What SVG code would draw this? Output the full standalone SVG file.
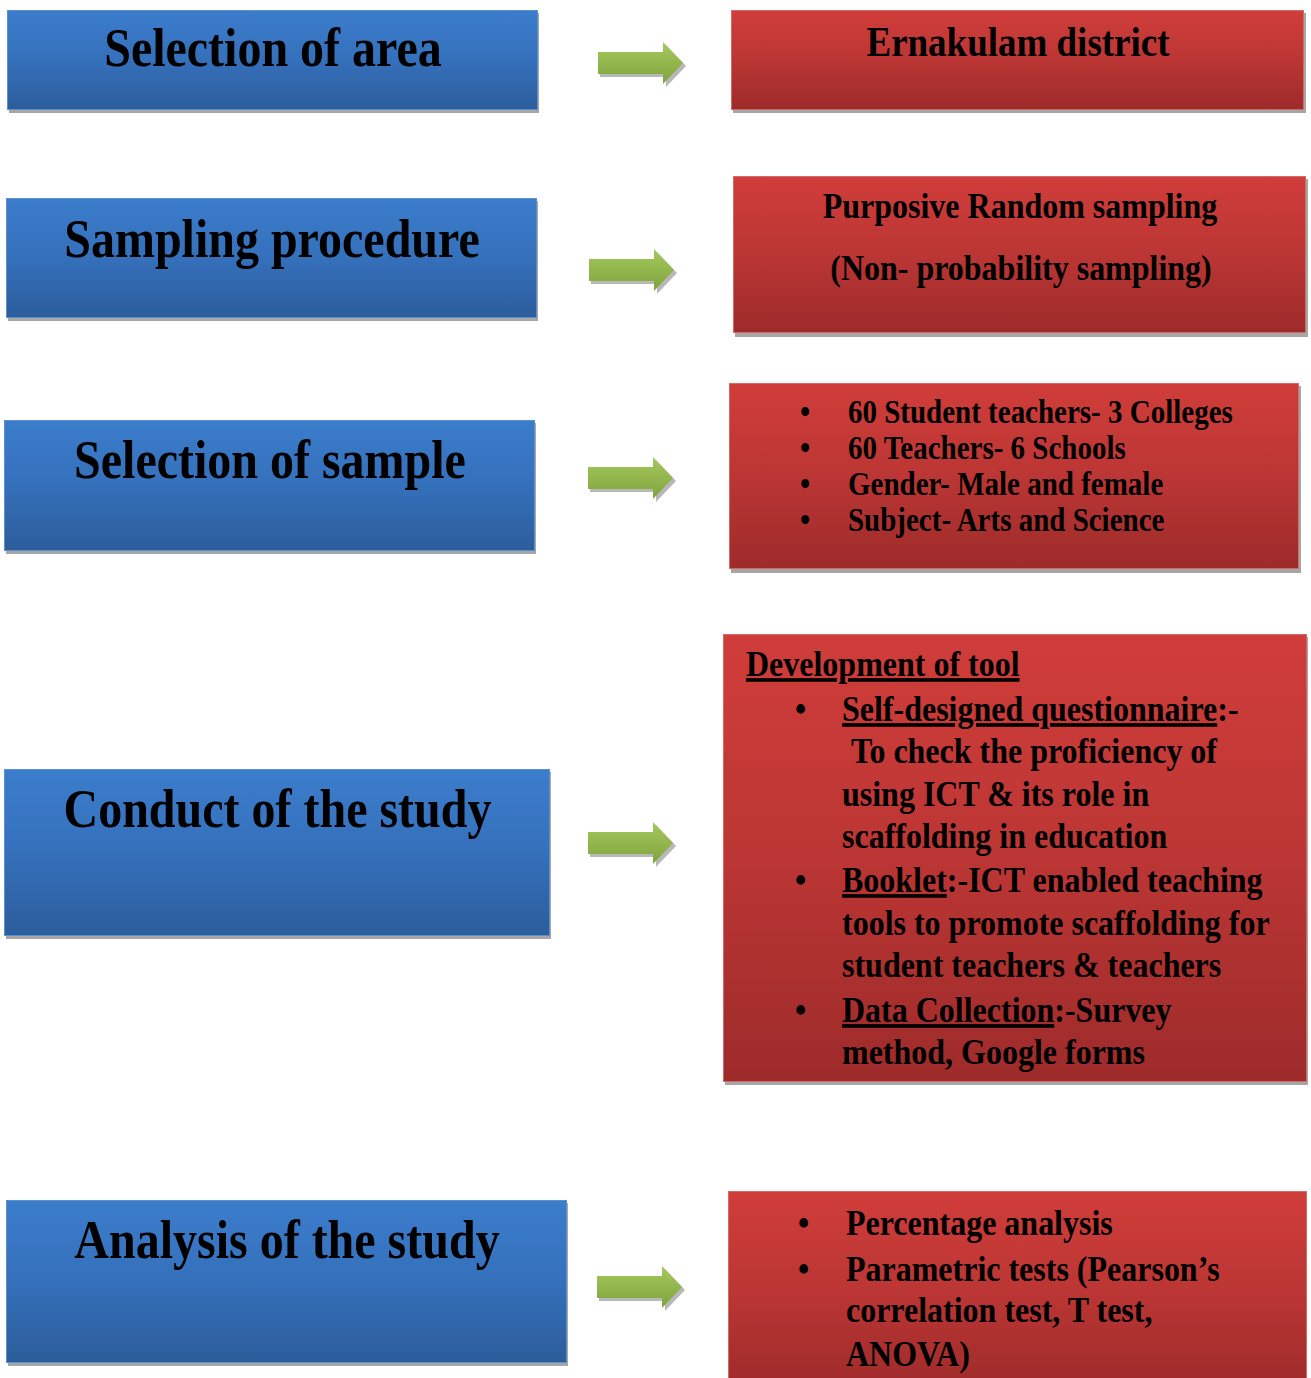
<svg xmlns="http://www.w3.org/2000/svg" width="1311" height="1378" viewBox="0 0 1311 1378">
<style>
.t{font-family:"Liberation Serif","Times New Roman",serif;font-weight:bold;fill:#000}
.h{font-size:48px;text-anchor:middle}
.r{font-size:32px}
.sh{fill:#a6a6a6}
.blue{fill:url(#gb);stroke:#5b8fd0;stroke-width:1}
.red{fill:url(#gr);stroke:#d36a68;stroke-width:1}
.u{text-decoration:underline}
</style>
<defs>
<linearGradient id="gb" x1="0" y1="0" x2="0" y2="1">
<stop offset="0" stop-color="#3b7dcc"/>
<stop offset="0.5" stop-color="#3570bb"/>
<stop offset="1" stop-color="#2c5d9b"/>
</linearGradient>
<linearGradient id="gr" x1="0" y1="0" x2="0" y2="1">
<stop offset="0" stop-color="#d03d3a"/>
<stop offset="0.5" stop-color="#bb3634"/>
<stop offset="1" stop-color="#9d2b2a"/>
</linearGradient>
<linearGradient id="gg" x1="0" y1="0" x2="0" y2="1">
<stop offset="0" stop-color="#a6c95e"/>
<stop offset="1" stop-color="#7fa43c"/>
</linearGradient>
<g id="arrow">
<path d="M2,-8 H68 V-18 L88,3 L68,24 V14 H2 Z" fill="#a0a0a0" opacity="0.75"/>
<path d="M0,-11 H65 V-21 L85,0 L65,21 V11 H0 Z" fill="url(#gg)"/>
</g>
</defs>

<g id="connectors">
<use href="#arrow" x="598" y="63"/>
<use href="#arrow" x="589" y="270"/>
<use href="#arrow" x="588" y="478"/>
<use href="#arrow" x="588" y="843"/>
<use href="#arrow" x="597" y="1287"/>
</g>

<g id="n-area">
<rect class="sh" x="9" y="13" width="530" height="100"/>
<rect class="blue" x="7.5" y="10.5" width="530" height="99"/>
<text class="t h" x="273" y="66" transform="matrix(1 0 0 1.14 0 -9.24)">Selection of area</text>
</g>
<g id="n-sampling">
<rect class="sh" x="8" y="201" width="530" height="120"/>
<rect class="blue" x="6.5" y="198.5" width="530" height="119"/>
<text class="t h" x="272" y="257" transform="matrix(1 0 0 1.14 0 -35.98)">Sampling procedure</text>
</g>
<g id="n-sample">
<rect class="sh" x="6" y="423" width="530" height="131"/>
<rect class="blue" x="4.5" y="420.5" width="530" height="130"/>
<text class="t h" x="270" y="478" transform="matrix(1 0 0 1.14 0 -66.92)">Selection of sample</text>
</g>
<g id="n-conduct">
<rect class="sh" x="6" y="772" width="545" height="167"/>
<rect class="blue" x="4.5" y="769.5" width="545" height="166"/>
<text class="t h" x="277.5" y="827" transform="matrix(1 0 0 1.14 0 -115.78)">Conduct of the study</text>
</g>
<g id="n-analysis">
<rect class="sh" x="8" y="1203" width="560" height="163"/>
<rect class="blue" x="6.5" y="1200.5" width="560" height="162"/>
<text class="t h" x="287" y="1258" transform="matrix(1 0 0 1.14 0 -176.12)">Analysis of the study</text>
</g>

<g id="n-ernakulam">
<rect class="sh" x="733" y="13" width="573" height="100"/>
<rect class="red" x="731.5" y="10.5" width="572" height="99"/>
<text class="t" x="1018" y="56" font-size="37" text-anchor="middle" transform="matrix(1 0 0 1.14 0 -7.84)">Ernakulam district</text>
</g>
<g id="n-purposive">
<rect class="sh" x="735" y="179" width="573" height="158"/>
<rect class="red" x="733.5" y="176.5" width="572" height="156"/>
<text class="t r" x="1020" y="218" text-anchor="middle" transform="matrix(1 0 0 1.14 0 -30.52)">Purposive Random sampling</text>
<text class="t r" x="1021" y="280" text-anchor="middle" transform="matrix(1 0 0 1.14 0 -39.2)">(Non- probability sampling)</text>
</g>
<g id="n-samplelist">
<rect class="sh" x="731" y="386" width="570" height="187"/>
<rect class="red" x="729.5" y="383.5" width="569" height="185"/>
<g class="t" font-size="29">
<g transform="matrix(1 0 0 1.14 0 -59.22)"><text x="800" y="423">•</text><text x="848" y="423">60 Student teachers- 3 Colleges</text></g>
<g transform="matrix(1 0 0 1.14 0 -64.26)"><text x="800" y="459">•</text><text x="848" y="459">60 Teachers- 6 Schools</text></g>
<g transform="matrix(1 0 0 1.14 0 -69.3)"><text x="800" y="495">•</text><text x="848" y="495">Gender- Male and female</text></g>
<g transform="matrix(1 0 0 1.14 0 -74.34)"><text x="800" y="531">•</text><text x="848" y="531">Subject- Arts and Science</text></g>
</g>
</g>
<g id="n-tool">
<rect class="sh" x="725" y="637" width="583" height="448"/>
<rect class="red" x="723.5" y="634.5" width="583" height="447"/>
<g class="t r">
<text x="746" y="676" class="u" transform="matrix(1 0 0 1.14 0 -94.64)">Development of tool</text>
<g transform="matrix(1 0 0 1.14 0 -100.94)"><text x="795" y="721">•</text><text x="842" y="721"><tspan class="u">Self-designed questionnaire</tspan>:-</text></g>
<text x="851" y="763" transform="matrix(1 0 0 1.14 0 -106.82)">To check the proficiency of</text>
<text x="842" y="806" transform="matrix(1 0 0 1.14 0 -112.84)">using ICT &amp; its role in</text>
<text x="842" y="848" transform="matrix(1 0 0 1.14 0 -118.72)">scaffolding in education</text>
<g transform="matrix(1 0 0 1.14 0 -124.88)"><text x="795" y="892">•</text><text x="842" y="892"><tspan class="u">Booklet</tspan>:-ICT enabled teaching</text></g>
<text x="842" y="935" transform="matrix(1 0 0 1.14 0 -130.9)">tools to promote scaffolding for</text>
<text x="842" y="977" transform="matrix(1 0 0 1.14 0 -136.78)">student teachers &amp; teachers</text>
<g transform="matrix(1 0 0 1.14 0 -143.08)"><text x="795" y="1022">•</text><text x="842" y="1022"><tspan class="u">Data Collection</tspan>:-Survey</text></g>
<text x="842" y="1064" transform="matrix(1 0 0 1.14 0 -148.96)">method, Google forms</text>
</g>
</g>
<g id="n-analysislist">
<rect class="red" x="728.5" y="1191.5" width="578" height="200"/>
<g class="t r">
<g transform="matrix(1 0 0 1.14 0 -172.9)"><text x="798" y="1235">•</text><text x="846" y="1235">Percentage analysis</text></g>
<g transform="matrix(1 0 0 1.14 0 -179.34)"><text x="798" y="1281">•</text><text x="846" y="1281">Parametric tests (Pearson’s</text></g>
<text x="846" y="1322" transform="matrix(1 0 0 1.14 0 -185.08)">correlation test, T test,</text>
<text x="846" y="1366" transform="matrix(1 0 0 1.14 0 -191.24)">ANOVA)</text>
</g>
</g>
</svg>
